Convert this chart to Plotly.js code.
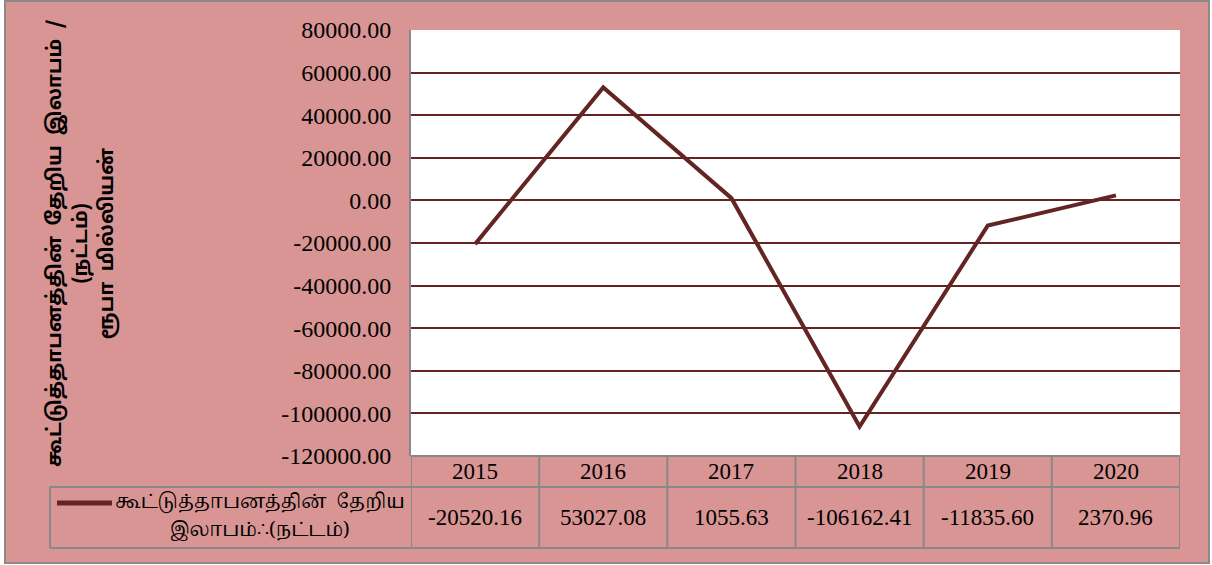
<!DOCTYPE html>
<html>
<head>
<meta charset="utf-8">
<script src="https://cdn.plot.ly/plotly-3.0.1.min.js"></script>
<style>
  html, body { margin: 0; padding: 0; background: #ffffff; }
  #wrap { position: absolute; left: 4px; top: 0px; border: 2px solid #8a8a8a; width: 1202px; height: 560px; }
  #chart { width: 1202px; height: 560px; }
</style>
</head>
<body>
<div id="wrap"><div id="chart"></div></div>
<script>
// ---- data ----
const years = ['2015', '2016', '2017', '2018', '2019', '2020'];
const netProfit = [-20520.16, 53027.08, 1055.63, -106162.41, -11835.60, 2370.96];
const seriesNameLines = ['கூட்டுத்தாபனத்தின்  தேறிய', 'இலாபம்∴(நட்டம்)'];
const yTitle = 'கூட்டுத்தாபனத்தின்  தேறிய  இலாபம்  /<br>(நட்டம்)<br>ரூபா  மில்லியன்';
const yTickVals = [80000, 60000, 40000, 20000, 0, -20000, -40000, -60000, -80000, -100000, -120000];
const yTickText = yTickVals.map(v => v.toFixed(2));

// ---- styling ----
const lineColor = '#632523';
const borderColor = '#888888';
const serif = '"Liberation Serif", "Times New Roman", serif';
const tamil = '"Noto Sans Tamil", "Noto Sans", "Lohit Tamil", sans-serif';
const tamilSerif = '"Noto Serif Tamil", "Noto Sans Tamil", "Noto Sans", serif';
const plotH = 426, plotW = 769;           // plot area size in px
const px2y = p => -p / plotH;              // px below plot bottom -> paper y
const px2x = p => p / plotW;               // px from plot left -> paper x
const row1 = px2y(31), row2 = px2y(92);
const legendLeft = px2x(50 - 411);

const shapes = [];
const annotations = [];

// table vertical lines at category boundaries
for (let i = 0; i <= years.length; i++) {
  shapes.push({type: 'line', xref: 'x', yref: 'paper', x0: i - 0.5, x1: i - 0.5, y0: 0, y1: row2,
               line: {color: borderColor, width: 2}, layer: 'above'});
}
// table horizontal lines
shapes.push({type: 'line', xref: 'x', yref: 'paper', x0: -0.5, x1: years.length - 0.5, y0: 0, y1: 0,
             line: {color: borderColor, width: 2}, layer: 'above'});
shapes.push({type: 'line', xref: 'paper', yref: 'paper', x0: legendLeft, x1: 1, y0: row1, y1: row1,
             line: {color: borderColor, width: 2}, layer: 'above'});
shapes.push({type: 'line', xref: 'paper', yref: 'paper', x0: legendLeft, x1: 1, y0: row2, y1: row2,
             line: {color: borderColor, width: 2}, layer: 'above'});
shapes.push({type: 'line', xref: 'paper', yref: 'paper', x0: legendLeft, x1: legendLeft, y0: row1, y1: row2,
             line: {color: borderColor, width: 2}, layer: 'above'});
// legend key line
shapes.push({type: 'line', xref: 'paper', yref: 'paper', x0: px2x(57 - 411), x1: px2x(112 - 411),
             y0: px2y(47), y1: px2y(47), line: {color: lineColor, width: 5}, layer: 'above'});

// table text (x given as category index)
years.forEach((yr, i) => {
  annotations.push({xref: 'x', yref: 'paper', x: i, y: px2y(15.5), text: yr, showarrow: false,
                    xanchor: 'center', yanchor: 'middle', font: {family: serif, size: 23, color: '#000'}});
  annotations.push({xref: 'x', yref: 'paper', x: i, y: px2y(61.5), text: netProfit[i].toFixed(2), showarrow: false,
                    xanchor: 'center', yanchor: 'middle', font: {family: serif, size: 23, color: '#000'}});
});
seriesNameLines.forEach((ln, k) => {
  annotations.push({xref: 'paper', yref: 'paper', x: px2x(260 - 411), y: px2y(47 + 27 * k), text: ln,
                    showarrow: false, xanchor: 'center', yanchor: 'middle', align: 'center',
                    font: {family: tamilSerif, size: 19, color: '#000'}});
});
// y axis title
annotations.push({xref: 'paper', yref: 'paper', x: px2x(81 - 411), y: 0.5, text: yTitle, textangle: -90,
                  showarrow: false, xanchor: 'center', yanchor: 'middle', align: 'center',
                  font: {family: tamil, size: 20, color: '#000', weight: 'bold'}});

const trace = {
  type: 'scatter', mode: 'lines', x: years, y: netProfit, name: seriesNameLines.join(' '),
  line: {color: lineColor, width: 4}, showlegend: false, hoverinfo: 'x+y'
};

const layout = {
  width: 1202, height: 560,
  margin: {l: 405, r: 28, t: 28, b: 106},
  paper_bgcolor: '#D99594',
  plot_bgcolor: '#ffffff',
  showlegend: false,
  xaxis: {type: 'category', range: [-0.5, years.length - 0.5], showticklabels: false,
          showgrid: false, zeroline: false, showline: false, ticks: '', fixedrange: true},
  yaxis: {range: [-120000, 80000], tickvals: yTickVals, ticktext: yTickText,
          tickfont: {family: serif, size: 24, color: '#000'}, ticklabelstandoff: 13,
          showgrid: true, gridcolor: lineColor, gridwidth: 2,
          zeroline: true, zerolinecolor: lineColor, zerolinewidth: 2,
          showline: true, linecolor: borderColor, linewidth: 2, ticks: '', fixedrange: true},
  shapes: shapes,
  annotations: annotations
};

Plotly.newPlot('chart', [trace], layout, {displayModeBar: false, staticPlot: true});
</script>
</body>
</html>
